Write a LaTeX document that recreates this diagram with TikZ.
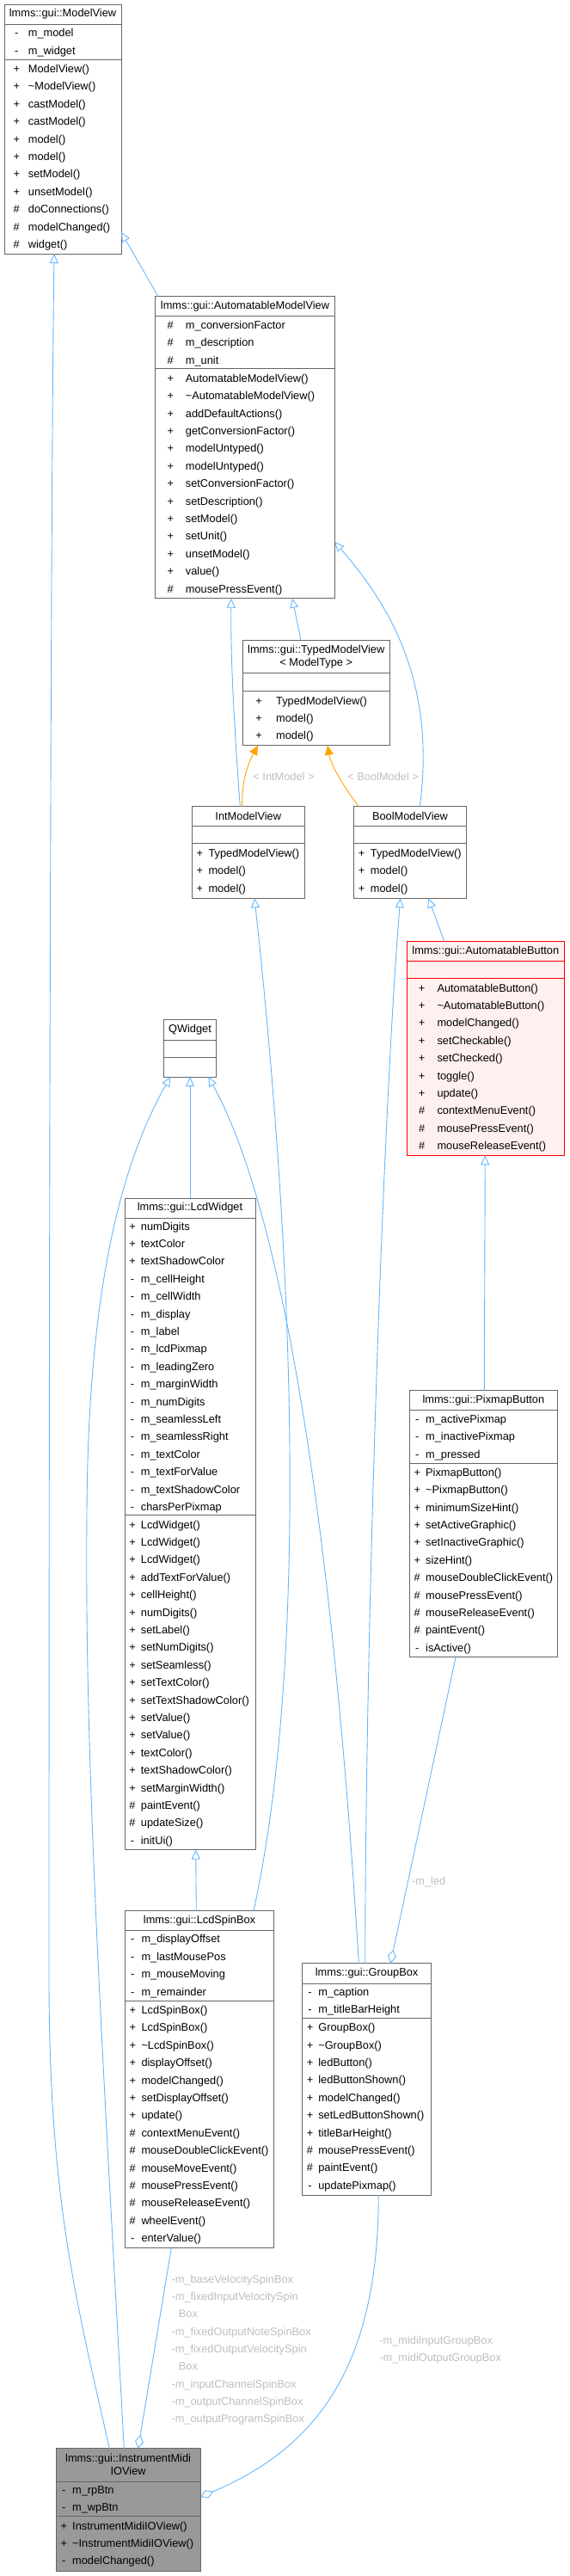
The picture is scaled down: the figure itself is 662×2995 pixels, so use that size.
\documentclass[tikz,border=0pt]{standalone}
\usepackage{fontspec}
\setmainfont{Liberation Sans}
\usetikzlibrary{arrows.meta,calc}

\def\rowpitch{20.4}

\tikzset{
  classbox/.style={draw=boxgray, line width=0.9pt, fill=white, inner sep=0pt, outer sep=0pt},
  sepline/.style={draw=boxgray, line width=0.9pt},
  focusbox/.style={fill=boxfocus},
  markedbox/.style={draw=red, fill=boxmarked},
  header/.style={align=center, inner sep=0pt},
  vismark/.style={anchor=base, inner sep=0pt},
  member/.style={anchor=base west, inner sep=0pt},
  inherit/.style={draw=edgeblue, line width=0.9pt, -{Triangle[open,length=11pt,width=10pt]}},
  tmpl/.style={draw=edgeorange, line width=0.9pt, -{Triangle[length=11pt,width=10pt]}},
  usage/.style={draw=edgeblue, line width=0.9pt, {Diamond[open,length=16pt,width=10pt]}-},
  edgelabel/.style={text=labelgray, inner sep=0pt}
}

% class frame: name, extra style, left, top, right, bottom, title rule, member rule, title
\newcommand{\umlclass}[9]{%
  \node[classbox,#2,minimum width={#5-#3},minimum height={#6-#4},anchor=north west] (#1) at (#3,#4) {};
  \draw[sepline,#2] (#3,#7) -- (#5,#7) (#3,#8) -- (#5,#8);
  \node[header] at ({(#3+#5)/2},{(#4+#7)/2}) {#9};
}

% member rows: left, section top, section bottom, rows, mark offset, name offset, list
\newcommand{\classmembers}[7]{%
  \foreach \vsign/\vname [count=\k] in {#7} {
    \node[vismark] at ({#1+#5},{(#2+#3)/2+(\k-0.5-#4/2)*\rowpitch+4.4}) {\vsign};
    \node[member] at ({#1+#6},{(#2+#3)/2+(\k-0.5-#4/2)*\rowpitch+4.4}) {\vname};
  }
}

\begin{document}
\begin{tikzpicture}[x=1pt, y=-1pt, font=\fontsize{12.8}{15}\selectfont]

        % Define colors
        \definecolor{boxgray}{HTML}{666666}
        \definecolor{boxfocus}{HTML}{999999}
        \definecolor{boxmarked}{HTML}{FFF0F0}
        \definecolor{edgeblue}{HTML}{63B8FF}
        \definecolor{edgeorange}{HTML}{FFA500}
        \definecolor{labelgray}{HTML}{BEBEBE}

        \useasboundingbox (0,0) rectangle (662,2995);

        % ModelView
        \umlclass{mv}{}{5}{5}{141}{295}{28}{69}{lmms::gui::ModelView}
        \classmembers{5}{28}{69}{2}{14.3}{27.7}{-/m\_model, -/m\_widget}
        \classmembers{5}{69}{295}{11}{14.3}{27.7}{+/ModelView(), +/\textasciitilde{}ModelView(), +/castModel(), +/castModel(), +/model(), +/model(), +/setModel(), +/unsetModel(), \#/doConnections(), \#/modelChanged(), \#/widget()}

        % AutomatableModelView
        \umlclass{amv}{}{180.7}{344.7}{389.3}{695.7}{367.7}{428.7}{lmms::gui::AutomatableModelView}
        \classmembers{180.7}{367.7}{428.7}{3}{17.6}{35}{\#/m\_conversionFactor, \#/m\_description, \#/m\_unit}
        \classmembers{180.7}{428.7}{695.7}{13}{17.6}{35}{+/AutomatableModelView(), +/\textasciitilde{}AutomatableModelView(), +/addDefaultActions(), +/getConversionFactor(), +/modelUntyped(), +/modelUntyped(), +/setConversionFactor(), +/setDescription(), +/setModel(), +/setUnit(), +/unsetModel(), +/value(), \#/mousePressEvent()}

        % TypedModelView template
        \umlclass{tmv}{}{282.3}{744.3}{453.3}{866.7}{782.3}{803.3}{lmms::gui::TypedModelView\\< ModelType >}
        \classmembers{282.3}{803.3}{866.7}{3}{18.7}{38.7}{+/TypedModelView(), +/model(), +/model()}

        % IntModelView and BoolModelView
        \umlclass{imv}{}{223.3}{937.7}{354.3}{1044.3}{960}{980.7}{IntModelView}
        \classmembers{223.3}{980.7}{1044.3}{3}{9}{19}{+/TypedModelView(), +/model(), +/model()}
        \umlclass{bmv}{}{411.7}{937.7}{542.3}{1044.3}{960}{980.7}{BoolModelView}
        \classmembers{411.7}{980.7}{1044.3}{3}{9}{19}{+/TypedModelView(), +/model(), +/model()}

        % AutomatableButton
        \umlclass{ab}{markedbox}{473.3}{1094.3}{656.3}{1343.3}{1117.3}{1137.7}{lmms::gui::AutomatableButton}
        \classmembers{473.3}{1137.7}{1343.3}{10}{17.4}{35}{+/AutomatableButton(), +/\textasciitilde{}AutomatableButton(), +/modelChanged(), +/setCheckable(), +/setChecked(), +/toggle(), +/update(), \#/contextMenuEvent(), \#/mousePressEvent(), \#/mouseReleaseEvent()}

        % QWidget
        \umlclass{qw}{}{190.7}{1185.7}{251.3}{1252}{1209}{1229.3}{QWidget}

        % LcdWidget
        \umlclass{lw}{}{145}{1393.3}{297}{2150.7}{1416}{1761.7}{lmms::gui::LcdWidget}
        \classmembers{145}{1416}{1761.7}{17}{9}{18.7}{+/numDigits, +/textColor, +/textShadowColor, -/m\_cellHeight, -/m\_cellWidth, -/m\_display, -/m\_label, -/m\_lcdPixmap, -/m\_leadingZero, -/m\_marginWidth, -/m\_numDigits, -/m\_seamlessLeft, -/m\_seamlessRight, -/m\_textColor, -/m\_textForValue, -/m\_textShadowColor, -/charsPerPixmap}
        \classmembers{145}{1761.7}{2150.7}{19}{9}{18.7}{+/LcdWidget(), +/LcdWidget(), +/LcdWidget(), +/addTextForValue(), +/cellHeight(), +/numDigits(), +/setLabel(), +/setNumDigits(), +/setSeamless(), +/setTextColor(), +/setTextShadowColor(), +/setValue(), +/setValue(), +/textColor(), +/textShadowColor(), +/setMarginWidth(), \#/paintEvent(), \#/updateSize(), -/initUi()}

        % PixmapButton
        \umlclass{pb}{}{476}{1616.8}{648.7}{1926.9}{1639.6}{1701}{lmms::gui::PixmapButton}
        \classmembers{476}{1639.6}{1701}{3}{9.3}{19}{-/m\_activePixmap, -/m\_inactivePixmap, -/m\_pressed}
        \classmembers{476}{1701}{1926.9}{11}{9.3}{19}{+/PixmapButton(), +/\textasciitilde{}PixmapButton(), +/minimumSizeHint(), +/setActiveGraphic(), +/setInactiveGraphic(), +/sizeHint(), \#/mouseDoubleClickEvent(), \#/mousePressEvent(), \#/mouseReleaseEvent(), \#/paintEvent(), -/isActive()}

        % LcdSpinBox
        \umlclass{lsb}{}{145.7}{2221.7}{318.3}{2613.5}{2244.3}{2326}{lmms::gui::LcdSpinBox}
        \classmembers{145.7}{2244.3}{2326}{4}{8.6}{18.6}{-/m\_displayOffset, -/m\_lastMousePos, -/m\_mouseMoving, -/m\_remainder}
        \classmembers{145.7}{2326}{2613.5}{14}{8.6}{18.6}{+/LcdSpinBox(), +/LcdSpinBox(), +/\textasciitilde{}LcdSpinBox(), +/displayOffset(), +/modelChanged(), +/setDisplayOffset(), +/update(), \#/contextMenuEvent(), \#/mouseDoubleClickEvent(), \#/mouseMoveEvent(), \#/mousePressEvent(), \#/mouseReleaseEvent(), \#/wheelEvent(), -/enterValue()}

        % GroupBox
        \umlclass{gb}{}{351.5}{2282.5}{501.7}{2552}{2306}{2346}{lmms::gui::GroupBox}
        \classmembers{351.5}{2306}{2346}{2}{9}{18.6}{-/m\_caption, -/m\_titleBarHeight}
        \classmembers{351.5}{2346}{2552}{10}{9}{18.6}{+/GroupBox(), +/\textasciitilde{}GroupBox(), +/ledButton(), +/ledButtonShown(), +/modelChanged(), +/setLedButtonShown(), +/titleBarHeight(), \#/mousePressEvent(), \#/paintEvent(), -/updatePixmap()}

        % InstrumentMidiIOView (the documented class)
        \umlclass{iov}{focusbox}{65}{2846.7}{233.3}{2989.3}{2885}{2925}{lmms::gui::InstrumentMidi\\IOView}
        \classmembers{65}{2885}{2925}{2}{9.3}{19}{-/m\_rpBtn, -/m\_wpBtn}
        \classmembers{65}{2925}{2989.3}{3}{9.3}{19}{+/InstrumentMidiIOView(), +/\textasciitilde{}InstrumentMidiIOView(), -/modelChanged()}

        % Inheritance edges
        \draw[inherit] ([xshift=3.3pt]amv.north west) -- ([yshift=25pt]mv.south east);
        \draw[inherit] ([xshift=62.3pt]iov.north west) .. controls (90,2680) and (57,2560) .. (57,2300) .. controls (57,1200) and (60,500) .. ([xshift=58pt]mv.south west);
        \draw[inherit] ([xshift=79.3pt]iov.north west) .. controls (120,2400) and (98,2050) .. (101,1760) .. controls (102,1560) and (125,1380) .. ([xshift=7.6pt]qw.south west);
        \draw[inherit] ([xshift=56pt]imv.north west) .. controls (272,840) and (268,760) .. ([xshift=88.3pt]amv.south west);
        \draw[inherit] ([xshift=67.7pt]tmv.north west) -- ([xshift=159.3pt]amv.south west);
        \draw[inherit] ([xshift=76.6pt]bmv.north west) .. controls (508,790) and (450,700) .. ([yshift=65.7pt]amv.south east);
        \draw[inherit] ([xshift=43.4pt]ab.north west) -- ([xshift=86.6pt]bmv.south west);
        \draw[inherit] ([xshift=73.2pt]gb.north west) .. controls (425,1900) and (445,1300) .. ([xshift=54pt]bmv.south west);
        \draw[inherit] ([xshift=149.3pt]lsb.north west) .. controls (365,1900) and (335,1400) .. ([xshift=72.7pt]imv.south west);
        \draw[inherit] ([xshift=76pt]lw.north west) -- ([xshift=30.3pt]qw.south west);
        \draw[inherit] ([xshift=65.8pt]gb.north west) .. controls (385,1750) and (325,1400) .. ([xshift=51.6pt]qw.south west);
        \draw[inherit] ([xshift=87.3pt]pb.north west) -- ([xshift=91pt]ab.south west);
        \draw[inherit] ([xshift=82.6pt]lsb.north west) -- ([xshift=82.7pt]lw.south west);

        % Template instantiation edges
        \draw[tmpl] ([xshift=58.4pt]imv.north west) .. controls (281,905) and (290,885) .. ([xshift=17.7pt]tmv.south west);
        \draw[tmpl] ([xshift=5.6pt]bmv.north west) .. controls (400,915) and (385,890) .. ([xshift=98.7pt]tmv.south west);
        \node[edgelabel, anchor=base] (lblint) at (330,907.7) {< IntModel >};
        \node[edgelabel, anchor=base] (lblbool) at (445.7,907.7) {< BoolModel >};

        % Usage edges
        \draw[usage] ([xshift=102.8pt]gb.north west) -- ([xshift=54pt]pb.south west);
        \node[edgelabel, anchor=base west] (lblled) at (479,2191) {-m\_led};
        \draw[usage] ([xshift=95.7pt]iov.north west) -- ([xshift=53.6pt]lsb.south west);
        \foreach \lbl/\lx/\ly in {-m\_baseVelocitySpinBox/199.3/2650, -m\_fixedInputVelocitySpin/199.3/2670.3, Box/207.7/2690.5, -m\_fixedOutputNoteSpinBox/199.3/2710.7, -m\_fixedOutputVelocitySpin/199.3/2731, Box/207.7/2751.3, -m\_inputChannelSpinBox/199.3/2771.7, -m\_outputChannelSpinBox/199.3/2792.2, -m\_outputProgramSpinBox/199.3/2812.5}
          \node[edgelabel, anchor=base west] at (\lx,\ly+4.4) {\lbl};
        \draw[usage] ([yshift=86.3pt]iov.south east) .. controls (370,2845) and (440,2750) .. ([xshift=88.8pt]gb.south west);
        \node[edgelabel, anchor=base west] (lblmidiin) at (441.2,2725.3) {-m\_midiInputGroupBox};
        \node[edgelabel, anchor=base west] (lblmidiout) at (441.2,2745.8) {-m\_midiOutputGroupBox};

\end{tikzpicture}
\end{document}
